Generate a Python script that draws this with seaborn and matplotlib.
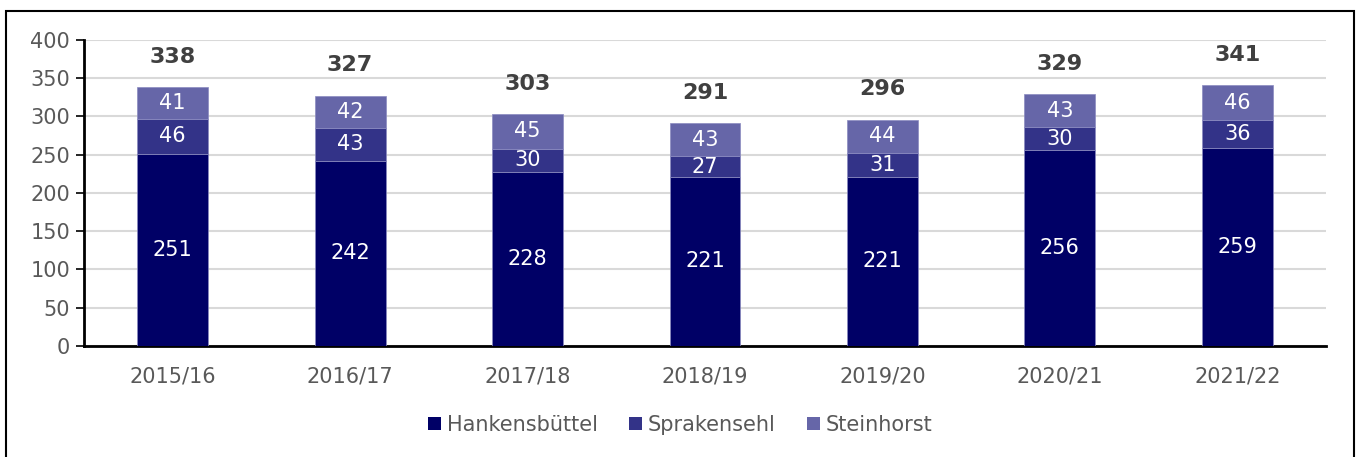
import matplotlib
matplotlib.use("Agg")
import matplotlib.pyplot as plt
from matplotlib.patches import Patch, Rectangle
import numpy as np
import seaborn as sns

years = ["2015/16", "2016/17", "2017/18", "2018/19", "2019/20", "2020/21", "2021/22"]
hankensbuettel = [251, 242, 228, 221, 221, 256, 259]
sprakensehl = [46, 43, 30, 27, 31, 30, 36]
steinhorst = [41, 42, 45, 43, 44, 43, 46]
series_names = ["Hankensbüttel", "Sprakensehl", "Steinhorst"]
colors = ["#000066", "#333388", "#6666A8"]


def main():
    sns.set_style("white")
    plt.rcParams["font.family"] = ["Verdana", "DejaVu Sans"]

    fig = plt.figure(figsize=(13.61, 4.57), dpi=100)
    ax = fig.add_axes([0.0617, 0.2429, 0.9126, 0.6696])

    series = [hankensbuettel, sprakensehl, steinhorst]
    bottom = np.zeros(len(years))
    for vals, name, col in zip(series, series_names, colors):
        sns.barplot(x=years, y=vals, bottom=bottom, color=col, width=0.4, saturation=1,
                    edgecolor="#8A8AC0", linewidth=0.5, ax=ax, zorder=3)
        for i, v in enumerate(vals):
            ax.text(i, bottom[i] + v / 2, str(v), ha="center", va="center",
                    color="white", fontsize=15, zorder=4)
        bottom = bottom + np.array(vals)

    # totals above the bars
    for i, tot in enumerate(bottom):
        ax.annotate(f"{int(tot)}", xy=(i, tot), xytext=(0, 22), textcoords="offset points",
                    ha="center", va="center", fontsize=16, fontweight="bold", color="#404040")

    ax.set_xlim(-0.5, 6.5)
    ax.set_ylim(0, 400)
    ax.set_yticks(range(0, 401, 50))
    ax.yaxis.grid(True, color="#D9D9D9", linewidth=1.5, zorder=0)
    ax.set_axisbelow(True)
    for s in ["top", "right"]:
        ax.spines[s].set_visible(False)
    ax.spines["left"].set_color("black")
    ax.spines["left"].set_linewidth(2)
    ax.spines["bottom"].set_color("black")
    ax.spines["bottom"].set_linewidth(2)
    ax.tick_params(axis="y", left=True, length=6, width=1.2, color="black",
                   labelsize=15, labelcolor="#595959", pad=4)
    ax.tick_params(axis="x", bottom=False, labelsize=15, labelcolor="#595959", pad=11)

    handles = [Patch(facecolor=c, edgecolor="none") for c in colors]
    fig.legend(handles, series_names, loc="center", bbox_to_anchor=(0.5, 0.07), ncol=3,
               frameon=False, fontsize=15, labelcolor="#595959", handlelength=0.6,
               handleheight=0.6, handletextpad=0.3, columnspacing=1.5)

    # outer frame
    fig.patches.append(Rectangle((6 / 1361, -0.05), 1348 / 1361, 1.05 - 11 / 457,
                                 transform=fig.transFigure, fill=False,
                                 edgecolor="black", linewidth=1.5))

    fig.savefig("out.png", dpi=100)
    plt.close(fig)


if __name__ == "__main__":
    main()
